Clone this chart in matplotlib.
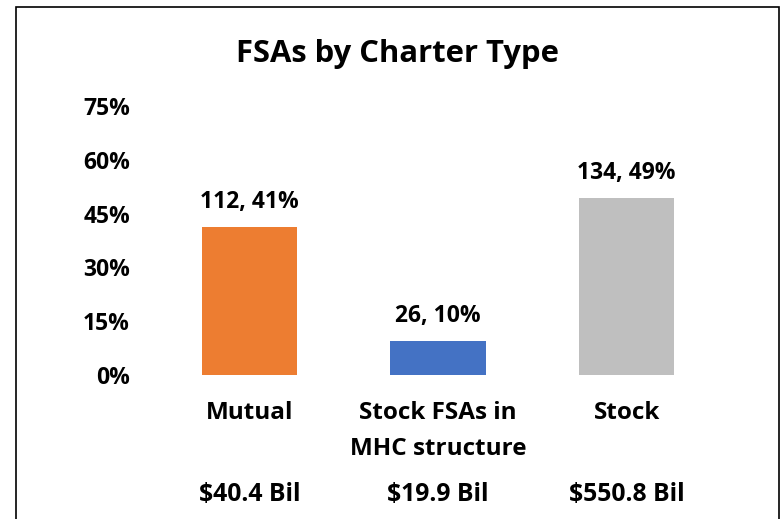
import matplotlib
matplotlib.use("Agg")
import matplotlib.pyplot as plt
from matplotlib.patches import Rectangle

categories = ["Mutual", "Stock FSAs in\nMHC structure", "Stock"]
counts = [112, 26, 134]
pct_values = [41.2, 9.6, 49.3]
pct_labels = ["41%", "10%", "49%"]
assets = ["$40.4 Bil", "$19.9 Bil", "$550.8 Bil"]
colors = ["#ED7D31", "#4472C4", "#BFBFBF"]
yticks = [0, 15, 30, 45, 60, 75]
title = "FSAs by Charter Type"

plt.rcParams['font.family'] = ['Open Sans', 'DejaVu Sans']
plt.rcParams['font.weight'] = 'bold'

W, H = 783, 519
fig = plt.figure(figsize=(W / 100, H / 100), dpi=100)
ax = fig.add_axes([155 / W, 144 / H, (721 - 155) / W, (375 - 106) / H])

x = list(range(len(categories)))
bars = ax.bar(x, pct_values, width=95 / 188.5, color=colors)
ax.set_xlim(-0.5, len(categories) - 0.5)
ax.set_ylim(0, 75)
ax.set_yticks(yticks)
ax.set_yticklabels([f"{v}%" for v in yticks], fontsize=16.5, fontweight='bold')
ax.set_xticks(x)
ax.set_xticklabels(categories, fontsize=17.5, fontweight='bold', linespacing=1.62)
ax.tick_params(axis='both', length=0)
ax.tick_params(axis='y', pad=18)
ax.tick_params(axis='x', pad=19)
for s in ax.spines.values():
    s.set_visible(False)

for xi, v, c, p in zip(x, pct_values, counts, pct_labels):
    ax.annotate(f"{c}, {p}", (xi, v), xytext=(0, 19), textcoords='offset pixels',
                ha='center', va='baseline', fontsize=16.5, fontweight='bold')

for xi, a in zip(x, assets):
    ax.annotate(a, (xi, 0), xycoords=('data', 'axes fraction'), xytext=(0, -126),
                textcoords='offset pixels', ha='center', va='baseline',
                fontsize=17.8, fontweight='bold')

fig.text(398 / W, 1 - 62 / H, title, ha='center', va='baseline', fontsize=22.3, fontweight='bold')

fig.patches.append(Rectangle((15.5 / W, -0.05), (779 - 15.5) / W, 1.05 - 6.5 / H,
                             transform=fig.transFigure, fill=False, edgecolor='black',
                             linewidth=1.2))

fig.savefig("out.png", dpi=100)
